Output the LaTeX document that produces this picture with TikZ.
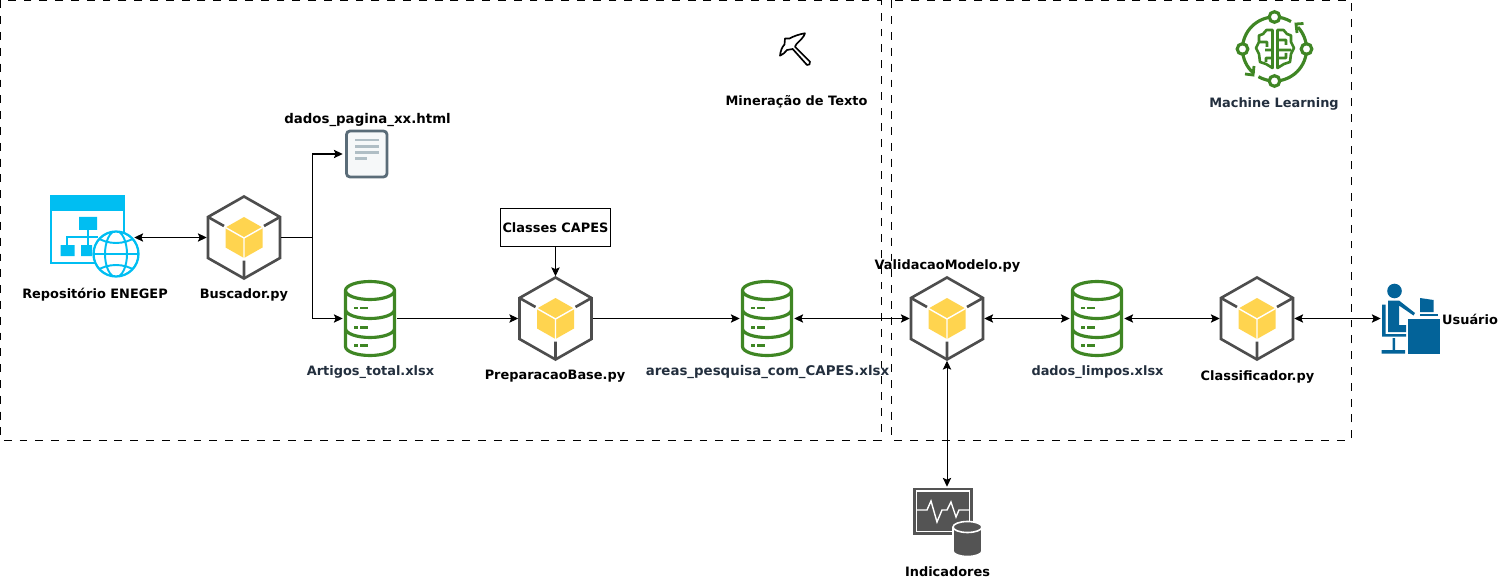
\documentclass[tikz,border=0pt]{standalone}
\usepackage{fontspec}
\setmainfont{DejaVu Sans}
\usetikzlibrary{arrows.meta, bending, positioning, calc}

\definecolor{awsgreen}{HTML}{3F8624}
\definecolor{awsslate}{HTML}{232F3E}
\definecolor{cubegray}{HTML}{4D4D4D}
\definecolor{cubeyellow}{HTML}{FFD44F}
\definecolor{webblue}{HTML}{00BEF2}
\definecolor{userblue}{HTML}{036399}
\definecolor{monitorgray}{HTML}{545454}
\definecolor{pageedge}{HTML}{5A6C78}
\definecolor{pagefill}{HTML}{F6F8F9}
\definecolor{pageline}{HTML}{B0BEC5}

\tikzset{
    x=0.02cm, y=-0.02cm,
    txt/.style={inner sep=0, font=\fontsize{7.35}{9}\selectfont\bfseries},
    txtwide/.style={font=\fontsize{7.6}{9}\selectfont\bfseries},
    txtaws/.style={txt, text=awsslate},
    zone/.style={draw, line width=0.57pt, dash pattern=on 4.5pt off 4.5pt},
    flow/.style={line width=0.57pt, -{Stealth[length=5pt,width=4.8pt,inset=1pt]}},
    flowboth/.style={line width=0.57pt, {Stealth[length=5pt,width=4.8pt,inset=1pt]}-{Stealth[length=5pt,width=4.8pt,inset=1pt]}},
    cubebox/.style={minimum width=1.48cm, minimum height=1.68cm, inner sep=0},
    dbbox/.style={minimum width=1.08cm, minimum height=1.54cm, inner sep=0},
    cube/.pic={
        \draw[cubegray, line width=1.5pt, line join=miter]
            (0,-41) -- (36,-20.5) -- (36,20.5) -- (0,41) -- (-36,20.5) -- (-36,-20.5) -- cycle;
        \draw[cubegray, line width=1.5pt]
            (-36,-20.5) -- (-20,-11.5) (36,-20.5) -- (20,-11.5) (0,41) -- (0,23);
        \fill[cubeyellow] (0,-20.5) -- (18.5,-10) -- (18.5,10) -- (0,20.5) -- (-18.5,10) -- (-18.5,-10) -- cycle;
        \draw[white, line width=0.8pt] (-18.5,-10) -- (0,0.5) -- (18.5,-10) (0,0.5) -- (0,20.5);
    },
    db/.pic={
        \draw[awsgreen, line width=1.8pt]
            (0,-28) ellipse[x radius=24.5, y radius=9]
            (-24.5,-28) -- (-24.5,28) arc[start angle=180, end angle=0, x radius=24.5, y radius=9] -- (24.5,-28)
            (-24.5,-9) arc[start angle=180, end angle=0, x radius=24.5, y radius=9]
            (-24.5,10) arc[start angle=180, end angle=0, x radius=24.5, y radius=9];
        \foreach \yy in {-10.5,9,27}
            \draw[awsgreen, line width=1.6pt] (-16,\yy) -- ++(4,0) (-10,\yy) -- ++(8,0);
    },
}

\begin{document}
\begin{tikzpicture}
    \useasboundingbox (0,0) rectangle (1499,581);

    % Zones
    \draw[zone] (0.5,0.5) rectangle (881,440);
    \draw[zone] (891,0.5) rectangle (1351,440);

    % Nodes
    \node[minimum width=1.68cm, minimum height=1.72cm, inner sep=0] (repo) at (92,237.5) {};
    \node[cubebox] (buscador) at (244,237.5) {};
    \node[minimum width=0.96cm, minimum height=0.96cm, inner sep=0] (pagina) at (367,154) {};
    \node[dbbox] (artigos) at (370,318.5) {};
    \node[cubebox] (preparacao) at (555.5,318.5) {};
    \node[draw, line width=0.57pt, minimum width=2.2cm, minimum height=0.78cm, inner sep=0, font=\fontsize{7.35}{9}\selectfont\bfseries] (classes) at (555.5,227.5) {Classes CAPES};
    \node[dbbox] (areas) at (767,318.5) {};
    \node[cubebox] (validacao) at (947,318.5) {};
    \node[dbbox] (limpos) at (1097,318.5) {};
    \node[cubebox] (classificador) at (1257,318.5) {};
    \node[minimum width=1.18cm, minimum height=1.44cm, inner sep=0] (usuario) at (1410.5,318.5) {};
    \node[minimum width=1.36cm, minimum height=1.4cm, inner sep=0] (indicadores) at (947,522) {};
    \coordinate (splitUp) at (312,237.5);
    \coordinate (splitDown) at (312.5,237.5);

    % Icons from the one pic
    \foreach \n in {buscador, preparacao, validacao, classificador}
        \pic at (\n) {cube};
    \foreach \n in {artigos, areas, limpos}
        \pic at (\n) {db};

    % Repository window
    \draw[webblue, line width=0.9pt] (124,195.5) rectangle (51,263);
    \fill[webblue] (50.5,195) rectangle (124.5,211);
    \fill[webblue] (79,217) rectangle (97,230) (60.5,245) rectangle (74.5,256) (81,245) rectangle (92,256);
    \draw[webblue, line width=0.7pt] (88,230) -- (88,245) (67,245) -- (67,237) -- (98,237);
    \draw[webblue, line width=1.3pt, fill=white] (116,254) circle[radius=22.5];
    \begin{scope}
        \clip (116,254) circle[radius=22.5];
        \draw[webblue, line width=1.1pt] (116,254) ellipse[x radius=11, y radius=23]
            (93,254) -- (139,254)
            (96,237) .. controls (108,245) and (124,245) .. (136,237)
            (96,271) .. controls (108,263) and (124,263) .. (136,271);
    \end{scope}

    % Page file
    \draw[draw=pageedge, fill=pagefill, line width=1.6pt, rounded corners=2pt] (346.5,131) rectangle (387,177);
    \draw[pageline, line width=1.2pt]
        (355,140) -- (379,140) (355,146.5) -- (379,146.5) (355,152.5) -- (379,152.5) (355,158.5) -- (367,158.5);

    % User at the desk
    \fill[userblue] (1394.5,291) circle[radius=7.3];
    \fill[userblue] (1382,304.5) rectangle (1385.5,336.5) (1382,334) rectangle (1406,336.5);
    \fill[userblue] (1388,300.5) -- (1399,300.5) -- (1415,313) -- (1413.5,315.5) -- (1399,305.5) -- (1399,325) -- (1406,325) -- (1406,332) -- (1388,332) -- cycle;
    \fill[userblue] (1392.5,338) rectangle (1395,350) (1381.5,350) rectangle (1405,353.5);
    \fill[userblue] (1408,318.5) rectangle (1439.5,353.5);
    \fill[userblue] (1420,298) -- (1433.5,300) -- (1433.5,312) -- (1420,312) -- cycle;
    \fill[userblue] (1419.5,313.5) rectangle (1437.5,316);

    % Monitor and database
    \fill[monitorgray] (913,487.5) rectangle (973,535);
    \draw[white, line width=0.8pt] (916.5,491) rectangle (969.5,531.5);
    \draw[white, line width=0.8pt] (916.5,510) -- (927,510) -- (931,501) -- (937,522) -- (942,510) -- (947,510) -- (951,502) -- (956,517) -- (959,510) -- (969.5,510);
    \fill[monitorgray, draw=white, line width=0.9pt] (953,527) -- (953,551) arc[start angle=180, end angle=0, x radius=14.5, y radius=5.5] -- (982,527) arc[start angle=0, end angle=-360, x radius=14.5, y radius=5.5];

    % Pickaxe
    \draw[line width=0.95pt, line join=round, fill=white]
        (780,55.7) .. controls (780.5,51) and (782,47) .. (784.5,44.5) -- (785,38.5) -- (789.5,38.5)
        .. controls (794,36) and (800,34) .. (805,33.3) .. controls (804,37) and (800,40.5) .. (796.5,44) -- (795,46.7)
        -- (810,61.7) .. controls (811,63.5) and (808.5,66) .. (807,65) -- (792.7,49) -- (787,50)
        .. controls (785,52.5) and (783,54.5) .. (780,55.7) -- cycle;

    % Learning cycle
    \begin{scope}[awsgreen, line width=1.8pt]
        \draw (1274.5,49) ++(-90:32) arc[start angle=-90, end angle=-180, radius=32];
        \draw (1274.5,49) ++(-90:32) arc[start angle=-90, end angle=-59, radius=32];
        \draw (1274.5,49) ++(-43:32) arc[start angle=-43, end angle=0, radius=32];
        \draw (1274.5,49) ++(180:32) arc[start angle=180, end angle=130, radius=32];
        \draw (1274.5,49) ++(120:32) arc[start angle=120, end angle=90, radius=32];
        \draw (1274.5,49) ++(0:32) arc[start angle=0, end angle=90, radius=32];
        \foreach \p in {(1274.5,17), (1242.5,49), (1306.5,49), (1274.5,81)}
            \draw[fill=white] \p circle[radius=5.3];
        \draw[line width=1.6pt] (1245,74) -- (1253,75) -- (1254,66);
        \draw[line width=1.6pt] (1297,33) -- (1296,24) -- (1303.5,23.5);
        \draw[line width=1.5pt, line join=round]
            (1272.5,30) -- (1266.5,30) -- (1263,34) -- (1259,35.5) -- (1259,42) -- (1256,48) -- (1259,54) -- (1260,62) -- (1266,64) -- (1272.5,68) -- cycle
            (1277.5,30) -- (1283.5,30) -- (1287,34) -- (1291,35.5) -- (1291,42) -- (1294,48) -- (1291,54) -- (1290,62) -- (1284,64) -- (1277.5,68) -- cycle
            (1259,42) -- (1267,42) -- (1267,47) (1272.5,50) -- (1265,50) (1272.5,58) -- (1266,58) -- (1266,62)
            (1277.5,40) -- (1286,40) -- (1286,45) (1277.5,50) -- (1291,50) (1277.5,58) -- (1286,58) -- (1286,53);
    \end{scope}

    % Labels
    \node[txt] (repoLabel) at (95,294.5) {Repositório ENEGEP};
    \node[txt] (buscadorLabel) at (244,294.5) {Buscador.py};
    \node[txt, txtwide] (paginaLabel) at (367.5,120.5) {dados\_pagina\_xx.html};
    \node[txtaws] (artigosLabel) at (370.5,372) {Artigos\_total.xlsx};
    \node[txt] (preparacaoLabel) at (555,376.5) {PreparacaoBase.py};
    \node[txtaws, txtwide] (areasLabel) at (767.5,372) {areas\_pesquisa\_com\_CAPES.xlsx};
    \node[txt] (validacaoLabel) at (947.5,266) {ValidacaoModelo.py};
    \node[txtaws] (limposLabel) at (1097.5,372) {dados\_limpos.xlsx};
    \node[txt] (classificadorLabel) at (1257.5,376.5) {Classificador.py};
    \node[txt] (usuarioLabel) at (1470,319.5) {Usuário};
    \node[txt] (indicadoresLabel) at (947.5,572) {Indicadores};
    \node[txt] (mineracaoLabel) at (796.5,102) {Mineração de Texto};
    \node[txtaws] (machineLabel) at (1274,103.5) {Machine Learning};

    % Edges
    \draw[flowboth] (repo) -- (buscador);
    \draw[line width=0.57pt] (buscador) -- (splitDown);
    \draw[flow] (splitUp) |- (pagina);
    \draw[flow] (splitDown) |- (artigos);
    \draw[flow] (artigos) -- (preparacao);
    \draw[flow] (classes) -- (preparacao);
    \draw[flow] (preparacao) -- (areas);
    \draw[flowboth] (areas) -- (validacao);
    \draw[flowboth] (validacao) -- (limpos);
    \draw[flowboth] (limpos) -- (classificador);
    \draw[flowboth] (classificador) -- (usuario);
    \draw[flowboth] (validacao) -- (indicadores);
\end{tikzpicture}
\end{document}
